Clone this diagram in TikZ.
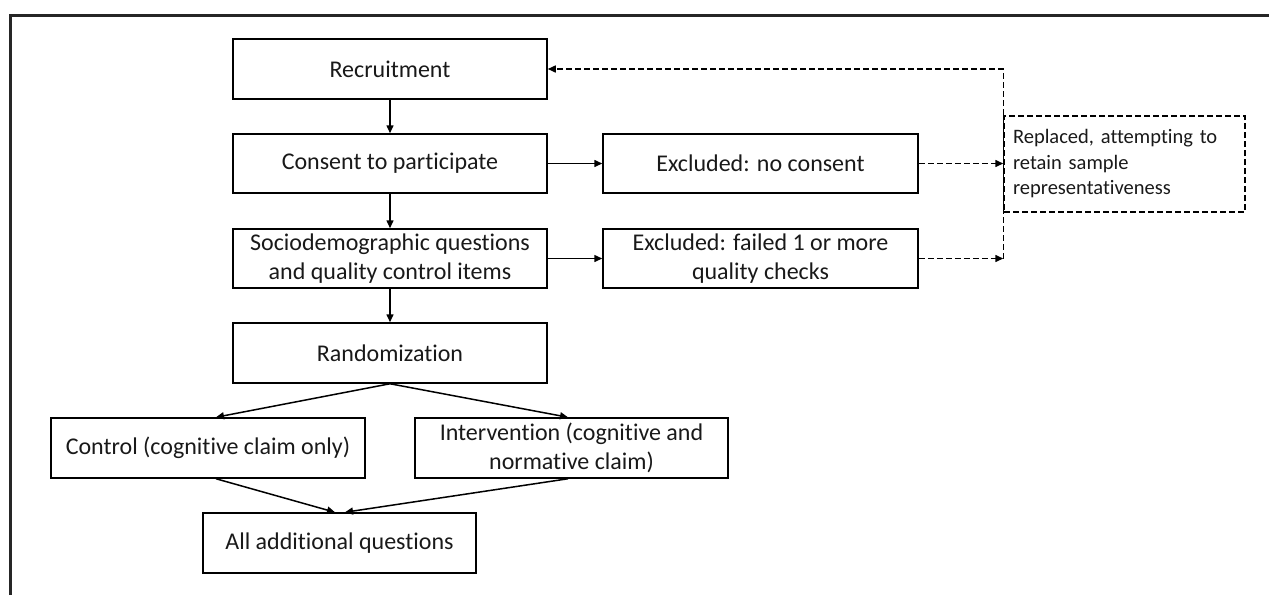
\documentclass[tikz,border=0pt]{standalone}
\usepackage{fontspec}
\setmainfont{Carlito}[Ligatures=NoCommon]
\usetikzlibrary{arrows.meta}
\begin{document}
\begin{tikzpicture}[x=1pt,y=-1pt,
  box/.style={draw=black, line width=1.5pt, inner sep=0pt, align=center,
    font=\fontsize{24}{29}\selectfont, text=black!90},
  conn/.style={line width=1.5pt, -{Triangle[length=8pt,width=7pt]}},
  dconn/.style={line width=1.5pt, dash pattern=on 6pt off 3pt},
  frame/.style={line width=2.6pt, draw=black!85}]
\useasboundingbox (0,0) rectangle (1269,595);
\draw[frame] (10.5,595) -- (10.5,15.3) -- (1269,15.3);

\node[box, minimum width=314pt, minimum height=60pt] (rec) at (390,69) {Recruitment};
\node[box, minimum width=314pt, minimum height=59pt] (con) at (390,163.5) {Consent to participate};
\node[box, minimum width=314pt, minimum height=59pt] (soc) at (390,258.5) {Sociodemographic questions\\and quality control items};
\node[box, minimum width=314pt, minimum height=60pt] (ran) at (390,353) {Randomization};
\node[box, minimum width=315pt, minimum height=59pt] (exn) at (760.5,163.5) {Excluded: no consent};
\node[box, minimum width=315pt, minimum height=59pt] (exf) at (760.5,258.5) {Excluded: failed 1 or more\\quality checks};
\node[box, dconn, minimum width=241pt, minimum height=96pt, align=left, text width=223pt,
  font=\fontsize{20.5}{25.5}\selectfont] (rep) at (1124.5,164) {Replaced, attempting to\\retain sample\\representativeness};
\node[box, minimum width=314pt, minimum height=60pt] (ctl) at (208,448) {Control (cognitive claim only)};
\node[box, minimum width=313pt, minimum height=60pt] (itv) at (571.5,448) {Intervention (cognitive and\\normative claim)};
\node[box, minimum width=273pt, minimum height=60pt] (all) at (339.5,543) {All additional questions};

\draw[conn] (rec.south) -- (con.north);
\draw[conn] (con.south) -- (soc.north);
\draw[conn] (soc.south) -- (ran.north);
\draw[conn] (con.east) -- (exn.west);
\draw[conn] (soc.east) -- (exf.west);
\draw[conn] (ran.south) -- ([xshift=8pt]ctl.north);
\draw[conn] (ran.south) -- ([xshift=-3.5pt]itv.north);
\draw[conn] ([xshift=8pt]ctl.south) -- ([xshift=-4.5pt]all.north);
\draw[conn] ([xshift=-3.5pt]itv.south) -- ([xshift=5.5pt]all.north);

\coordinate (j2) at (exf.east -| rep.west);
\coordinate (j0) at (rec.east -| rep.west);
\draw[dconn, -{Triangle[length=8pt,width=7pt]}] (exn.east) -- (exn.east -| rep.west);
\draw[dconn, -{Triangle[length=8pt,width=7pt]}] (exf.east) -- (j2);
\draw[dconn, -{Triangle[length=8pt,width=7pt]}] (j2) -- (j0) -- (rec.east);
\end{tikzpicture}
\end{document}
